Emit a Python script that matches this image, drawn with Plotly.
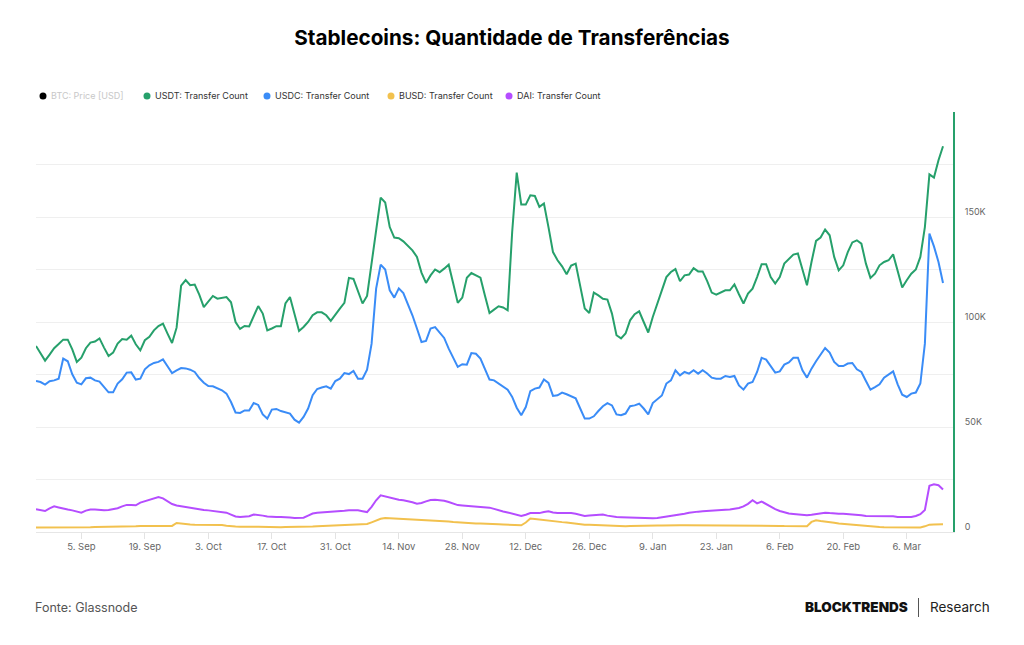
import pandas as pd
import plotly.graph_objects as go

# ---------------- data (thousands of transfers per day) ----------------
start_date = "2022-08-26"

usdt = [88.6, 85.2, 81.6, 84.5, 87.5, 89.5, 91.6, 91.6, 87.0, 81.0,
        83.0, 87.5, 90.2, 90.7, 92.2, 87.8, 83.8, 85.4, 89.7, 91.9,
        91.6, 93.5, 89.4, 86.5, 91.3, 92.9, 96.0, 98.1, 99.2, 94.5,
        90.0, 97.3, 117.3, 120.0, 117.5, 117.8, 113.0, 107.1, 110.0, 112.4,
        111.1, 111.6, 111.9, 109.4, 100.0, 96.7, 98.1, 97.9, 103.2, 107.6,
        104.0, 96.0, 96.9, 98.0, 98.0, 108.8, 111.9, 104.0, 95.7, 97.6,
        100.0, 103.2, 104.6, 104.6, 103.2, 100.5, 103.7, 106.4, 109.1, 121.0,
        120.5, 114.6, 108.8, 112.4, 127.6, 144.0, 159.2, 156.9, 145.2, 140.2,
        139.9, 138.4, 136.4, 134.1, 131.0, 123.5, 118.6, 122.2, 125.0, 123.7,
        125.4, 127.3, 118.3, 109.1, 111.6, 121.1, 123.3, 122.2, 121.1, 112.5,
        104.3, 105.9, 107.5, 106.9, 105.6, 143.0, 171.1, 155.9, 155.9, 160.3,
        160.0, 154.8, 156.4, 145.2, 133.3, 129.4, 126.5, 122.7, 126.9, 127.8,
        117.5, 106.4, 104.3, 114.0, 112.7, 111.1, 110.7, 104.0, 93.7, 92.2,
        94.5, 100.8, 103.7, 105.1, 100.0, 95.0, 102.4, 108.8, 114.3, 121.4,
        123.8, 125.2, 119.4, 122.2, 122.6, 125.6, 124.1, 124.1, 119.5, 114.0,
        113.0, 114.0, 115.1, 115.1, 117.9, 113.2, 108.8, 113.5, 115.9, 121.4,
        127.5, 127.5, 121.4, 118.3, 121.4, 127.8, 130.2, 132.1, 132.6, 124.6,
        117.5, 128.6, 138.6, 140.2, 144.0, 141.3, 131.0, 124.6, 127.0, 133.3,
        137.9, 138.9, 137.3, 127.8, 121.0, 123.0, 127.0, 128.6, 129.4, 132.2,
        123.8, 116.4, 119.9, 123.0, 125.0, 131.0, 145.2, 170.3, 168.8, 177.0,
        183.7]

usdc = [71.9, 71.4, 70.2, 71.8, 72.2, 73.0, 82.6, 81.3, 75.1, 71.1,
        70.3, 73.2, 73.5, 72.2, 71.6, 69.0, 66.5, 66.5, 70.7, 72.7,
        75.9, 76.0, 72.6, 73.0, 77.5, 79.4, 80.5, 81.0, 82.2, 78.9,
        75.7, 77.0, 78.1, 77.9, 77.3, 76.2, 73.3, 71.1, 69.5, 69.4,
        68.3, 67.5, 65.9, 61.9, 56.9, 56.7, 57.9, 57.9, 61.4, 60.5,
        56.0, 54.0, 58.3, 58.6, 57.6, 57.0, 56.4, 53.5, 52.1, 54.8,
        58.8, 65.1, 68.1, 68.8, 69.4, 68.3, 71.9, 73.0, 75.7, 75.2,
        76.7, 73.0, 73.0, 77.3, 89.7, 115.9, 127.3, 125.0, 115.1, 111.6,
        116.0, 113.8, 108.8, 103.2, 96.9, 90.5, 91.0, 96.9, 97.6, 95.2,
        92.4, 87.3, 82.6, 78.6, 79.9, 79.7, 85.2, 84.9, 82.6, 77.4,
        72.6, 72.2, 70.7, 69.0, 67.8, 64.3, 59.2, 55.6, 59.5, 67.1,
        68.3, 68.8, 72.6, 71.0, 64.8, 65.1, 66.4, 65.6, 64.6, 63.7,
        58.8, 54.0, 54.0, 55.1, 57.6, 59.9, 61.4, 60.3, 56.0, 55.6,
        56.4, 59.9, 60.3, 61.1, 58.8, 56.0, 61.4, 63.0, 65.0, 70.7,
        72.2, 77.0, 74.6, 76.2, 75.4, 77.0, 75.4, 77.0, 75.5, 73.5,
        73.0, 73.0, 74.3, 73.8, 74.3, 69.8, 67.8, 70.7, 71.4, 76.2,
        82.9, 82.1, 78.9, 75.9, 76.5, 79.7, 80.7, 83.0, 83.0, 77.0,
        73.5, 77.8, 81.3, 84.6, 87.6, 85.4, 81.0, 79.0, 79.0, 80.2,
        80.5, 77.5, 76.2, 71.9, 67.8, 69.0, 70.3, 73.5, 75.1, 76.5,
        70.3, 65.4, 64.3, 65.9, 66.4, 70.7, 89.7, 142.1, 136.0, 128.6,
        118.6]

busd = [2.1, 2.1, 2.1, 2.0, 2.1, 2.1, 2.2, 2.1, 2.2, 2.2,
        2.2, 2.3, 2.3, 2.4, 2.4, 2.5, 2.5, 2.5, 2.6, 2.6,
        2.7, 2.7, 2.7, 2.8, 2.8, 2.8, 2.8, 2.9, 2.9, 2.9,
        2.9, 4.3, 4.0, 3.8, 3.6, 3.5, 3.5, 3.5, 3.5, 3.5,
        3.4, 3.3, 3.0, 2.7, 2.6, 2.5, 2.4, 2.4, 2.5, 2.5,
        2.4, 2.4, 2.4, 2.3, 2.3, 2.4, 2.4, 2.3, 2.3, 2.4,
        2.5, 2.6, 2.7, 2.8, 2.9, 3.0, 3.0, 3.1, 3.2, 3.3,
        3.4, 3.5, 3.5, 3.8, 4.6, 5.6, 6.3, 6.7, 6.5, 6.4,
        6.3, 6.2, 6.1, 6.0, 5.9, 5.9, 5.6, 5.4, 5.3, 5.2,
        5.2, 5.0, 4.8, 4.6, 4.4, 4.3, 4.2, 4.1, 4.0, 4.0,
        3.9, 3.8, 3.7, 3.6, 3.5, 3.3, 3.2, 3.2, 4.5, 6.4,
        6.2, 5.9, 5.6, 5.3, 5.1, 4.9, 4.7, 4.5, 4.2, 3.9,
        3.7, 3.5, 3.4, 3.3, 3.2, 3.1, 3.0, 2.8, 2.7, 2.7,
        2.7, 2.8, 2.9, 2.9, 2.9, 3.0, 3.0, 3.1, 3.1, 3.2,
        3.2, 3.2, 3.2, 3.2, 3.2, 3.2, 3.2, 3.2, 3.2, 3.2,
        3.2, 3.2, 3.2, 3.1, 3.0, 3.0, 2.9, 2.9, 2.9, 2.9,
        2.9, 2.9, 2.9, 2.9, 2.9, 2.8, 2.8, 2.8, 2.7, 2.7,
        2.7, 4.8, 5.6, 5.2, 5.0, 4.8, 4.4, 4.0, 3.8, 3.5,
        3.3, 3.2, 3.0, 2.8, 2.6, 2.4, 2.4, 2.3, 2.3, 2.2,
        2.2, 2.2, 2.1, 2.1, 2.1, 2.2, 2.7, 3.5, 3.6, 3.7,
        3.7]

dai = [10.8, 10.3, 10.0, 11.3, 12.2, 11.7, 11.1, 10.7, 10.3, 9.6,
       9.2, 10.2, 10.7, 10.7, 10.5, 10.3, 10.5, 10.8, 11.3, 12.2,
       12.9, 12.8, 12.7, 14.0, 14.6, 15.2, 16.0, 16.7, 16.0, 14.5,
       13.3, 12.6, 12.2, 11.8, 11.4, 11.0, 10.8, 10.5, 10.3, 10.1,
       9.9, 9.6, 9.2, 8.3, 7.4, 7.1, 7.2, 7.5, 8.3, 8.2,
       7.8, 7.4, 7.1, 7.1, 7.1, 7.1, 6.9, 6.7, 6.7, 6.8,
       7.8, 8.8, 9.2, 9.3, 9.4, 9.5, 9.7, 9.9, 10.1, 10.3,
       10.3, 10.3, 9.9, 9.5, 12.0, 15.1, 17.5, 17.0, 16.2, 15.7,
       15.4, 15.1, 14.8, 14.2, 13.5, 13.8, 14.6, 15.2, 15.3, 15.2,
       14.9, 14.3, 13.5, 12.8, 12.6, 12.4, 12.2, 12.0, 11.9, 11.8,
       11.6, 11.0, 10.3, 9.8, 9.3, 8.8, 8.1, 7.6, 8.2, 9.0,
       9.0, 9.0, 9.5, 9.9, 9.3, 9.0, 9.1, 9.2, 9.0, 8.7,
       8.2, 7.6, 7.8, 8.0, 8.2, 8.3, 7.8, 7.4, 7.1, 7.0,
       6.9, 6.8, 6.8, 6.8, 6.5, 6.3, 6.5, 6.7, 7.0, 7.4,
       7.7, 8.0, 8.3, 8.7, 9.2, 9.6, 9.7, 9.9, 10.1, 10.2,
       10.3, 10.4, 10.6, 10.7, 11.0, 11.4, 12.2, 13.4, 15.1, 13.6,
       14.5, 13.2, 11.9, 10.9, 10.0, 9.3, 8.8, 8.6, 8.4, 8.3,
       8.0, 8.2, 8.5, 8.9, 9.2, 9.0, 8.7, 8.7, 8.7, 8.6,
       8.5, 8.4, 8.0, 7.6, 7.6, 7.6, 7.6, 7.6, 7.6, 7.5,
       7.2, 7.1, 7.1, 7.1, 7.6, 8.5, 10.5, 22.0, 22.7, 22.3,
       20.2]

legend_labels = ["BTC: Price [USD]", "USDT: Transfer Count", "USDC: Transfer Count",
                 "BUSD: Transfer Count", "DAI: Transfer Count"]
y_tick_values = [0, 50000, 100000, 150000]
y_tick_text = ["0", "50K", "100K", "150K"]

# ---------------- styling ----------------
FONT = "Inter"
C_USDT = "#26a06b"
C_USDC = "#3a8cf7"
C_BUSD = "#f2c14e"
C_DAI = "#b54dff"
C_GRID = "#efefef"

W, H = 1024, 645
ML, MR, MT, MB = 36, 71, 112, 113
PW, PH = W - ML - MR, H - MT - MB


def xp(px):
    return (px - ML) / PW


def yp(py):
    return (H - MB - py) / PH


dates = pd.date_range(start_date, periods=len(usdt), freq="D")

fig = go.Figure()
for name, vals, col in [("DAI: Transfer Count", dai, C_DAI),
                        ("BUSD: Transfer Count", busd, C_BUSD),
                        ("USDC: Transfer Count", usdc, C_USDC),
                        ("USDT: Transfer Count", usdt, C_USDT)]:
    fig.add_trace(go.Scatter(
        x=dates, y=[v * 1000 for v in vals], name=name, mode="lines",
        line=dict(color=col, width=2), showlegend=False,
        hovertemplate="%{y:,.0f}<extra>" + name + "</extra>"))

# custom legend row (dots + labels)
legend_items = [
    (43, "#000000", "#c8c8c8"),
    (147, C_USDT, "#333333"),
    (267, C_USDC, "#333333"),
    (391, C_BUSD, "#333333"),
    (509, C_DAI, "#333333"),
]
shapes = []
annotations = []
for (cx, dcol, tcol), label in zip(legend_items, legend_labels):
    shapes.append(dict(type="circle", xref="paper", yref="paper",
                       xsizemode="pixel", ysizemode="pixel",
                       xanchor=xp(cx), yanchor=yp(96),
                       x0=-3.5, x1=3.5, y0=-3.5, y1=3.5,
                       fillcolor=dcol, line=dict(width=0)))
    annotations.append(dict(xref="paper", yref="paper", x=xp(cx + 6), y=yp(96),
                            xanchor="left", yanchor="middle", showarrow=False,
                            text=label, font=dict(family=FONT, size=9, color=tcol)))

# footer
annotations.append(dict(xref="paper", yref="paper", x=xp(33), y=yp(607),
                        xanchor="left", yanchor="middle", showarrow=False,
                        text="Fonte: Glassnode",
                        font=dict(family=FONT, size=12.5, color="#555555")))
annotations.append(dict(xref="paper", yref="paper", x=xp(910), y=yp(607),
                        xanchor="right", yanchor="middle", showarrow=False,
                        text="BLOCKTRENDS",
                        font=dict(family=FONT, size=13.5, color="#111111", weight=900)))
annotations.append(dict(xref="paper", yref="paper", x=xp(928), y=yp(607),
                        xanchor="left", yanchor="middle", showarrow=False,
                        text="Research",
                        font=dict(family=FONT, size=13.5, color="#222222")))
shapes.append(dict(type="line", xref="paper", yref="paper",
                   x0=xp(918.5), x1=xp(918.5), y0=yp(598), y1=yp(617),
                   line=dict(color="#555555", width=1)))

fig.update_layout(
    width=W, height=H,
    margin=dict(l=ML, r=MR, t=MT, b=MB),
    paper_bgcolor="white", plot_bgcolor="white",
    font=dict(family=FONT, color="#666666"),
    title=dict(text="<b>Stablecoins: Quantidade de Transferências</b>",
               x=0.5, xanchor="center", y=1 - 38 / H, yanchor="middle",
               font=dict(family=FONT, size=20.7, color="#000000")),
    shapes=shapes, annotations=annotations,
    showlegend=False,
    xaxis=dict(
        type="date",
        range=["2022-08-26", "2023-03-16 04:48"],
        tick0="2022-09-05", dtick=14 * 86400000,
        tickformat="%-d. %b",
        tickfont=dict(family=FONT, size=9.5, color="#666666"),
        ticks="outside", ticklen=6, tickcolor="#e3e3e3", tickwidth=1,
        showgrid=False, zeroline=False,
        showline=True, linecolor="#e6e6e6", linewidth=1,
    ),
    yaxis=dict(
        side="right",
        range=[0, 200000],
        tickvals=y_tick_values, ticktext=y_tick_text,
        tickfont=dict(family=FONT, size=9, color="#666666"),
        ticks="", ticklabelstandoff=8, ticklabelshift=-5,
        showgrid=True, gridcolor=C_GRID, gridwidth=1,
        minor=dict(tickvals=[25000, 75000, 125000, 175000, 200000],
                   showgrid=True, gridcolor=C_GRID, gridwidth=1, ticks=""),
        zeroline=False,
        showline=True, linecolor=C_USDT, linewidth=2,
    ),
)

fig.write_html("out.html")
